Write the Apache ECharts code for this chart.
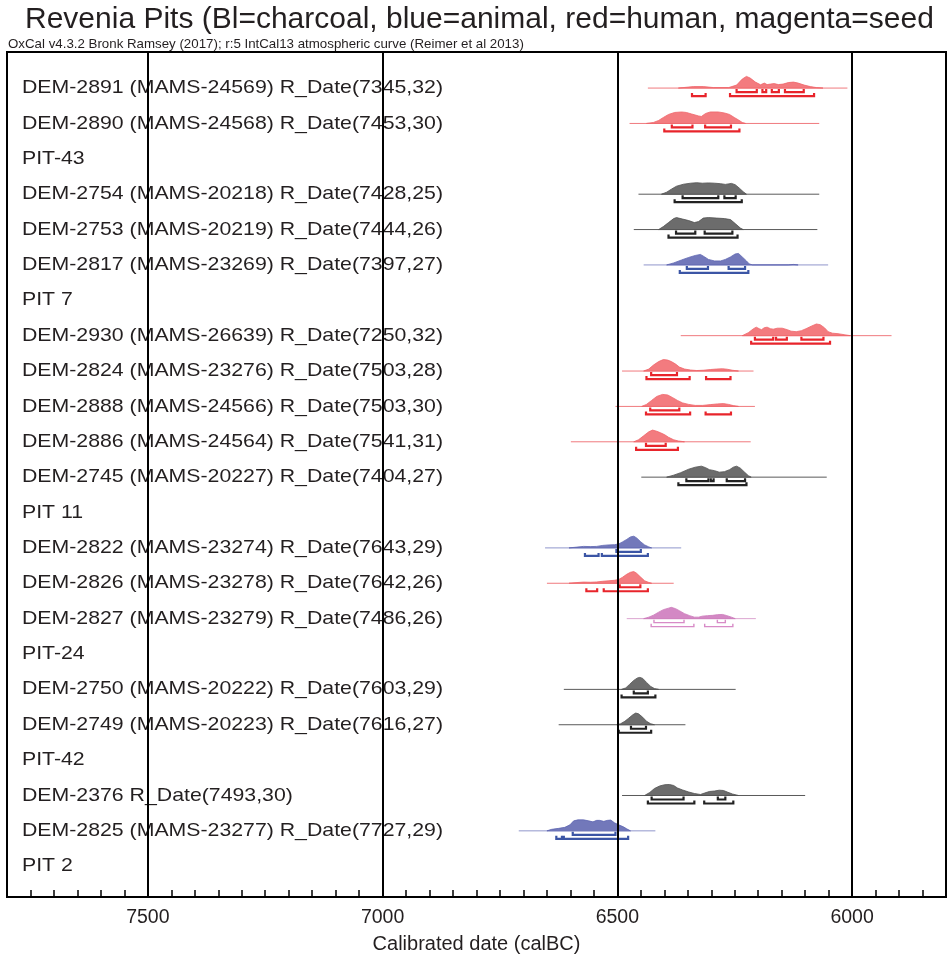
<!DOCTYPE html>
<html>
<head>
<meta charset="utf-8">
<script src="https://cdn.jsdelivr.net/npm/echarts@6/dist/echarts.min.js"></script>
<style>
html,body{margin:0;padding:0;background:#fff;}
#chart{width:949px;height:959px;}
</style>
</head>
<body>
<div id="chart"></div>
<script>
// ---------------- DATA ----------------
const TITLE = 'Revenia Pits (Bl=charcoal, blue=animal, red=human, magenta=seed';
const SUBTITLE = 'OxCal v4.3.2 Bronk Ramsey (2017); r:5 IntCal13 atmospheric curve (Reimer et al 2013)';
const AXIS_NAME = 'Calibrated date (calBC)';
const MAJOR_TICKS = [7500, 7000, 6500, 6000];

const rowLabels = [
  'DEM-2891 (MAMS-24569) R_Date(7345,32)',
  'DEM-2890 (MAMS-24568) R_Date(7453,30)',
  'PIT-43',
  'DEM-2754 (MAMS-20218) R_Date(7428,25)',
  'DEM-2753 (MAMS-20219) R_Date(7444,26)',
  'DEM-2817 (MAMS-23269) R_Date(7397,27)',
  'PIT 7',
  'DEM-2930 (MAMS-26639) R_Date(7250,32)',
  'DEM-2824 (MAMS-23276) R_Date(7503,28)',
  'DEM-2888 (MAMS-24566) R_Date(7503,30)',
  'DEM-2886 (MAMS-24564) R_Date(7541,31)',
  'DEM-2745 (MAMS-20227) R_Date(7404,27)',
  'PIT 11',
  'DEM-2822 (MAMS-23274) R_Date(7643,29)',
  'DEM-2826 (MAMS-23278) R_Date(7642,26)',
  'DEM-2827 (MAMS-23279) R_Date(7486,26)',
  'PIT-24',
  'DEM-2750 (MAMS-20222) R_Date(7603,29)',
  'DEM-2749 (MAMS-20223) R_Date(7616,27)',
  'PIT-42',
  'DEM-2376 R_Date(7493,30)',
  'DEM-2825 (MAMS-23277) R_Date(7727,29)',
  'PIT 2'
];

// Each sample: density curve [calBC, relative density], extent of plotted distribution,
// 68.2% ranges and 95.4% ranges
const DEM2891_curve = [[6370,0],[6338,1.5],[6317,1.5],[6295,0.5],[6263,0.5],[6246,3],[6234,9],[6225,11.7],[6217,10],[6206,6],[6195,3.3],[6187,5],[6181,3.5],[6174,4],[6166,4.5],[6157,3.5],[6147,4],[6136,5.5],[6125,6],[6115,5],[6102,3],[6089,1.5],[6076,0.5],[6062,0]];
const DEM2891_span = [6435, 6010];
const DEM2891_r68 = [[6246,6203],[6191,6183],[6171,6156],[6143,6103]];
const DEM2891_r95 = [[6341,6312],[6260,6081]];

const DEM2890_curve = [[6438,0],[6423,1],[6412,3],[6402,6],[6391,9],[6378,11],[6363,11.5],[6353,11],[6342,9.5],[6327,7.5],[6321,7],[6312,10],[6302,11.5],[6285,11.5],[6272,10.5],[6261,9],[6251,6],[6242,3.5],[6234,1],[6227,0]];
const DEM2890_span = [6474, 6070];
const DEM2890_r68 = [[6384,6340],[6313,6258]];
const DEM2890_r95 = [[6400,6240]];

const DEM2754_curve = [[6406,0],[6395,2],[6385,5],[6374,8],[6359,10],[6344,11],[6331,11.5],[6319,11],[6306,11.3],[6293,11],[6280,10.5],[6270,9.8],[6257,10.8],[6249,9.5],[6240,6],[6232,2.5],[6225,0]];
const DEM2754_span = [6455, 6070];
const DEM2754_r68 = [[6361,6285],[6272,6248]];
const DEM2754_r95 = [[6378,6235]];

const DEM2753_curve = [[6412,0],[6402,3],[6391,7],[6380,11],[6374,12],[6361,10.5],[6348,9],[6336,7],[6327,8],[6317,11.5],[6306,12],[6289,11.5],[6272,11],[6259,10],[6249,6],[6238,1.5],[6232,0]];
const DEM2753_span = [6465, 6074];
const DEM2753_r68 = [[6375,6334],[6314,6255]];
const DEM2753_r95 = [[6391,6244]];

const DEM2817_curve = [[6395,0],[6380,2],[6363,5],[6348,7.5],[6334,9.5],[6323,10.5],[6314,8],[6306,5.5],[6293,4],[6280,4],[6270,5.5],[6259,8],[6249,11],[6242,11.5],[6234,8],[6225,4],[6219,1],[6212,0],[6136,0],[6125,0.5],[6115,0]];
const DEM2817_span = [6444, 6051];
const DEM2817_r68 = [[6352,6307],[6263,6228]];
const DEM2817_r95 = [[6367,6221]];

const DEM2930_curve = [[6234,0],[6221,3],[6210,7],[6204,8.5],[6198,7],[6193,6],[6187,8],[6181,8.5],[6174,7],[6168,6.5],[6159,7.5],[6149,7.5],[6138,6],[6130,4.5],[6119,4],[6108,5],[6098,7],[6087,9.5],[6076,11.7],[6068,11],[6059,8],[6051,4],[6042,2.5],[6030,2],[6017,1],[6004,0]];
const DEM2930_span = [6365, 5916];
const DEM2930_r68 = [[6207,6168],[6162,6139],[6108,6061]];
const DEM2930_r95 = [[6215,6047]];

const DEM2824_curve = [[6444,0],[6433,2],[6423,6],[6412,9.5],[6402,11.5],[6393,11],[6385,9.5],[6376,7],[6368,4],[6357,2],[6344,1],[6331,0.5],[6317,0.8],[6302,1.5],[6289,2],[6276,2.3],[6266,1.8],[6255,0.8],[6242,0]];
const DEM2824_span = [6490, 6210];
const DEM2824_r68 = [[6428,6373]];
const DEM2824_r95 = [[6438,6346],[6311,6259]];

const DEM2888_curve = [[6448,0],[6438,2],[6427,6],[6416,10],[6404,12],[6393,11.5],[6383,9],[6372,6],[6361,3.5],[6348,2],[6334,1],[6319,1],[6302,1.8],[6287,2.5],[6274,2.8],[6263,2],[6253,0.8],[6242,0]];
const DEM2888_span = [6504, 6207];
const DEM2888_r68 = [[6430,6368]];
const DEM2888_r95 = [[6439,6345],[6312,6258]];

const DEM2886_curve = [[6465,0],[6455,2],[6444,6],[6433,10],[6425,11.7],[6416,10.5],[6408,9],[6399,7],[6391,4.5],[6380,2],[6370,0.8],[6357,0]];
const DEM2886_span = [6599, 6216];
const DEM2886_r68 = [[6439,6397]];
const DEM2886_r95 = [[6460,6371]];

const DEM2745_curve = [[6395,0],[6380,2],[6365,4.5],[6348,8],[6334,10],[6321,11],[6312,9.5],[6304,7.5],[6293,6.5],[6283,5],[6272,5.5],[6261,7.5],[6253,10],[6246,11],[6238,9],[6229,5],[6221,1.5],[6215,0]];
const DEM2745_span = [6449, 6054];
const DEM2745_r68 = [[6353,6306],[6301,6295],[6267,6228]];
const DEM2745_r95 = [[6370,6225]];

const DEM2822_curve = [[6603,0],[6586,0.8],[6572,1.5],[6557,1.3],[6544,1.5],[6531,2.5],[6518,3],[6506,3.2],[6497,4],[6489,6],[6480,8.5],[6472,11],[6465,11.7],[6459,10],[6450,6],[6442,3],[6433,1],[6427,0]];
const DEM2822_span = [6654, 6364];
const DEM2822_r68 = [[6502,6450]];
const DEM2822_r95 = [[6569,6540],[6533,6435]];

const DEM2826_curve = [[6603,0],[6586,0.7],[6572,1.2],[6557,1],[6544,1.3],[6531,2],[6518,2.5],[6506,3],[6497,3.8],[6489,6],[6480,9],[6472,11],[6465,11.7],[6459,10],[6450,6],[6442,2.5],[6433,0.8],[6427,0]];
const DEM2826_span = [6650, 6380];
const DEM2826_r68 = [[6495,6451]];
const DEM2826_r95 = [[6566,6543],[6529,6435]];

const DEM2827_curve = [[6444,0],[6433,1.5],[6423,3.5],[6412,6.5],[6402,9],[6391,10.5],[6385,11.3],[6376,10],[6368,8],[6357,5],[6346,3],[6336,1.5],[6327,1.5],[6319,2.5],[6308,3],[6297,3.3],[6287,4],[6276,4.2],[6268,3.2],[6257,1.5],[6249,0]];
const DEM2827_span = [6480, 6205];
const DEM2827_r68 = [[6422,6358],[6287,6270]];
const DEM2827_r95 = [[6428,6337],[6314,6254]];

const DEM2750_curve = [[6491,0],[6482,1.5],[6474,5],[6465,9],[6457,11.5],[6452,12],[6446,11],[6438,7],[6429,3],[6421,0.8],[6412,0]];
const DEM2750_span = [6614, 6248];
const DEM2750_r68 = [[6465,6435]];
const DEM2750_r95 = [[6491,6419]];

const DEM2749_curve = [[6501,0],[6493,1],[6484,3.5],[6476,6.5],[6467,10],[6461,11.7],[6455,11],[6446,7.5],[6438,3.5],[6429,1],[6421,0]];
const DEM2749_span = [6625, 6355];
const DEM2749_r68 = [[6471,6439]];
const DEM2749_r95 = [[6497,6428]];

const DEM2376_curve = [[6442,0],[6431,3],[6421,7],[6410,9.5],[6399,10.8],[6389,11],[6380,10],[6372,7.5],[6361,5.5],[6348,3.5],[6336,2],[6323,1],[6314,2.5],[6304,4],[6293,4.5],[6283,5.3],[6274,5],[6266,3.5],[6255,1.5],[6242,0]];
const DEM2376_span = [6490, 6100];
const DEM2376_r68 = [[6427,6359],[6286,6270]];
const DEM2376_r95 = [[6435,6336],[6315,6253]];

const DEM2825_curve = [[6650,0],[6640,1.5],[6625,2.5],[6612,3.5],[6601,6],[6593,10],[6584,11],[6572,11],[6561,10],[6552,9],[6544,10.5],[6538,10.5],[6529,9.5],[6521,10.5],[6514,10.8],[6506,8],[6497,6],[6487,4],[6480,2],[6472,0]];
const DEM2825_span = [6710, 6419];
const DEM2825_r68 = [[6595,6504]];
const DEM2825_r95 = [[6630,6618],[6614,6477]];

// row number (1-based, matching rowLabels) and material of each sample
const SAMPLE_ROWS =  [1, 2, 4, 5, 6, 8, 9, 10, 11, 12, 14, 15, 16, 18, 19, 21, 22];
const SAMPLE_KINDS = ['human','human','charcoal','charcoal','animal','human','human','human','human','charcoal','animal','human','seed','charcoal','charcoal','charcoal','animal'];
const SAMPLE_CURVES = [DEM2891_curve, DEM2890_curve, DEM2754_curve, DEM2753_curve, DEM2817_curve, DEM2930_curve, DEM2824_curve, DEM2888_curve, DEM2886_curve, DEM2745_curve, DEM2822_curve, DEM2826_curve, DEM2827_curve, DEM2750_curve, DEM2749_curve, DEM2376_curve, DEM2825_curve];
const SAMPLE_SPANS = [DEM2891_span, DEM2890_span, DEM2754_span, DEM2753_span, DEM2817_span, DEM2930_span, DEM2824_span, DEM2888_span, DEM2886_span, DEM2745_span, DEM2822_span, DEM2826_span, DEM2827_span, DEM2750_span, DEM2749_span, DEM2376_span, DEM2825_span];
const SAMPLE_R68 = [DEM2891_r68, DEM2890_r68, DEM2754_r68, DEM2753_r68, DEM2817_r68, DEM2930_r68, DEM2824_r68, DEM2888_r68, DEM2886_r68, DEM2745_r68, DEM2822_r68, DEM2826_r68, DEM2827_r68, DEM2750_r68, DEM2749_r68, DEM2376_r68, DEM2825_r68];
const SAMPLE_R95 = [DEM2891_r95, DEM2890_r95, DEM2754_r95, DEM2753_r95, DEM2817_r95, DEM2930_r95, DEM2824_r95, DEM2888_r95, DEM2886_r95, DEM2745_r95, DEM2822_r95, DEM2826_r95, DEM2827_r95, DEM2750_r95, DEM2749_r95, DEM2376_r95, DEM2825_r95];

// ---------------- STYLE ----------------
const FONT = '"Liberation Sans", Arial, Helvetica, sans-serif';
const STYLE = {
  human:    { fill: '#f37b7f', stroke: '#ef6469', base: '#f07a7e', bracket: '#e8242b', bw: 2.2 },
  charcoal: { fill: '#6c6c6c', stroke: '#505050', base: '#5a5a5a', bracket: '#222222', bw: 2.2 },
  animal:   { fill: '#7278ba', stroke: '#5e66b1', base: '#9096cc', bracket: '#3b55a5', bw: 2.2 },
  seed:     { fill: '#d388c4', stroke: '#cb7aba', base: '#dca5d1', bracket: '#d88bc7', bw: 1.4 }
};
const DENS_TO_ROW = 1 / 35.4; // one density unit = 1/35.4 of a row
const LABEL_SCALE_X = 1.15;

function renderDist(params, api) {
  const i = params.dataIndex;
  const st = STYLE[SAMPLE_KINDS[i]];
  const row = SAMPLE_ROWS[i];
  const span = SAMPLE_SPANS[i];
  const p0 = api.coord([span[0], row]);
  const p1 = api.coord([span[1], row]);
  const baseY = p0[1];
  const children = [];
  children.push({ type: 'line', shape: { x1: p0[0], y1: baseY, x2: p1[0], y2: baseY },
    style: { stroke: st.base, lineWidth: 1 } });
  const pts = SAMPLE_CURVES[i].map(function (p) { return api.coord([p[0], row - p[1] * DENS_TO_ROW]); });
  children.push({ type: 'polygon', shape: { points: pts },
    style: { fill: st.fill, stroke: st.stroke, lineWidth: 0.8 } });
  function brackets(ranges, off) {
    const y = baseY + off;
    ranges.forEach(function (r) {
      const xa = api.coord([r[0], row])[0];
      const xb = api.coord([r[1], row])[0];
      children.push({ type: 'polyline', shape: { points: [[xa, y - 3], [xa, y], [xb, y], [xb, y - 3]] },
        style: { stroke: st.bracket, lineWidth: st.bw, fill: null } });
    });
  }
  brackets(SAMPLE_R68[i], 4);
  brackets(SAMPLE_R95[i], 8);
  return { type: 'group', children: children };
}

function renderLabel(params, api) {
  const c = api.coord([api.value(0), api.value(1)]);
  return { type: 'text', x: c[0] + 15, y: c[1], scaleX: LABEL_SCALE_X,
    style: { text: rowLabels[params.dataIndex], fontSize: 18.5, fontFamily: FONT,
      fill: '#231f20', align: 'left', verticalAlign: 'middle' } };
}

const chart = echarts.init(document.getElementById('chart'), null, { renderer: 'canvas', width: 949, height: 959 });
chart.setOption({
  animation: false,
  backgroundColor: '#ffffff',
  title: [
    { text: TITLE, left: 25, top: 5, padding: 0,
      textStyle: { fontSize: 30, fontWeight: 'normal', color: '#231f20', fontFamily: FONT } },
    { text: SUBTITLE, left: 8, top: 38, padding: 0,
      textStyle: { fontSize: 13.3, fontWeight: 'normal', color: '#231f20', fontFamily: FONT } }
  ],
  grid: { left: 7, right: 1, top: 52, bottom: 61, show: true, borderColor: '#000', borderWidth: 2 },
  xAxis: {
    type: 'value', min: 5800, max: 7800, interval: 50, inverse: true,
    axisLine: { show: true, onZero: false, lineStyle: { color: '#000', width: 2 } },
    axisTick: { show: true, inside: true, length: 7, lineStyle: { color: '#000', width: 1.5 } },
    axisLabel: { show: true, margin: 11, fontSize: 19.5, color: '#231f20', fontFamily: FONT,
      formatter: function (v) { return MAJOR_TICKS.indexOf(v) >= 0 ? String(v) : ''; } },
    splitLine: { show: false },
    name: AXIS_NAME, nameLocation: 'middle', nameGap: 37,
    nameTextStyle: { fontSize: 20, color: '#231f20', fontFamily: FONT }
  },
  yAxis: { type: 'value', min: -0.02, max: 23.87, inverse: true, show: false },
  series: [
    { type: 'custom', name: 'distributions', z: 2, renderItem: renderDist,
      data: SAMPLE_ROWS.map(function (r, i) { return [SAMPLE_SPANS[i][0], r]; }) },
    { type: 'custom', name: 'labels', z: 3, renderItem: renderLabel,
      data: rowLabels.map(function (t, i) { return [7800, i + 1]; }) },
    { type: 'line', name: 'major', z: 5, data: [], silent: true,
      markLine: { silent: true, symbol: ['none', 'none'], label: { show: false },
        lineStyle: { color: '#000', width: 2, type: 'solid' },
        data: MAJOR_TICKS.map(function (v) { return { xAxis: v }; }) } }
  ]
});
</script>
</body>
</html>
